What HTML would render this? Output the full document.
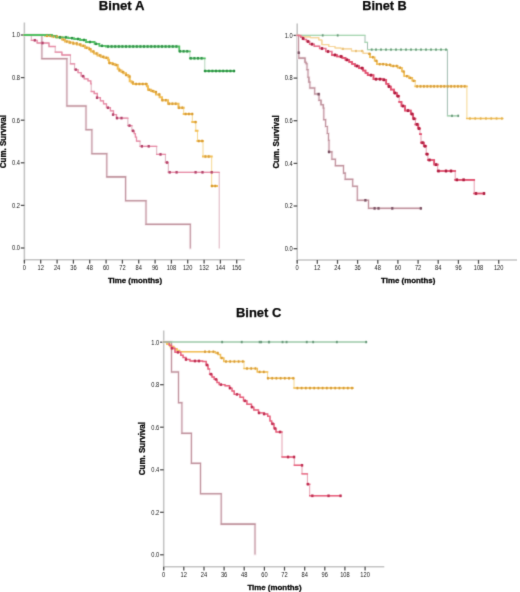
<!DOCTYPE html><html><head><meta charset="utf-8"><style>
html,body{margin:0;padding:0;background:#fff;}
body{width:520px;height:592px;overflow:hidden;}
svg{display:block;}
.tk{font-family:"Liberation Sans",sans-serif;font-size:6.50px;fill:#181818;}
.ttl{font-family:"Liberation Sans",sans-serif;font-size:13px;font-weight:bold;fill:#0a0a0a;stroke:#0a0a0a;stroke-width:0.25px;}
.lab{font-family:"Liberation Sans",sans-serif;font-size:8.2px;font-weight:bold;fill:#0a0a0a;stroke:#0a0a0a;stroke-width:0.3px;}
</style></head><body>
<svg width="520" height="592" viewBox="0 0 520 592">
<defs><filter id="bl" filterUnits="userSpaceOnUse" x="0" y="0" width="520" height="592" color-interpolation-filters="sRGB"><feConvolveMatrix order="3" kernelMatrix="0.0192 0.1001 0.0192 0.1001 0.5228 0.1001 0.0192 0.1001 0.0192" edgeMode="none" preserveAlpha="false"/></filter><filter id="bt" filterUnits="userSpaceOnUse" x="0" y="0" width="520" height="592" color-interpolation-filters="sRGB"><feConvolveMatrix order="3" kernelMatrix="0.0113 0.0838 0.0113 0.0838 0.6193 0.0838 0.0113 0.0838 0.0113" edgeMode="none" preserveAlpha="false"/></filter></defs>
<rect width="520" height="592" fill="#fff"/>
<g filter="url(#bt)">
<line x1="24.4" y1="22.5" x2="24.4" y2="262.3" stroke="#c6c6c6" stroke-width="1.6"/><line x1="24.4" y1="259.8" x2="244.8" y2="259.8" stroke="#c6c6c6" stroke-width="1.6"/><line x1="20.8" y1="248.0" x2="24.4" y2="248.0" stroke="#555" stroke-width="1.3"/><text x="20.0" y="250.3" class="tk" text-anchor="end" textLength="7.95" lengthAdjust="spacingAndGlyphs">0.0</text><line x1="20.8" y1="205.4" x2="24.4" y2="205.4" stroke="#555" stroke-width="1.3"/><text x="20.0" y="207.7" class="tk" text-anchor="end" textLength="7.95" lengthAdjust="spacingAndGlyphs">0.2</text><line x1="20.8" y1="162.8" x2="24.4" y2="162.8" stroke="#555" stroke-width="1.3"/><text x="20.0" y="165.1" class="tk" text-anchor="end" textLength="7.95" lengthAdjust="spacingAndGlyphs">0.4</text><line x1="20.8" y1="120.2" x2="24.4" y2="120.2" stroke="#555" stroke-width="1.3"/><text x="20.0" y="122.5" class="tk" text-anchor="end" textLength="7.95" lengthAdjust="spacingAndGlyphs">0.6</text><line x1="20.8" y1="77.6" x2="24.4" y2="77.6" stroke="#555" stroke-width="1.3"/><text x="20.0" y="79.9" class="tk" text-anchor="end" textLength="7.95" lengthAdjust="spacingAndGlyphs">0.8</text><line x1="20.8" y1="35.0" x2="24.4" y2="35.0" stroke="#555" stroke-width="1.3"/><text x="20.0" y="37.3" class="tk" text-anchor="end" textLength="7.95" lengthAdjust="spacingAndGlyphs">1.0</text><line x1="24.4" y1="259.8" x2="24.4" y2="263.6" stroke="#555" stroke-width="1.3"/><text x="24.4" y="270.0" class="tk" text-anchor="middle" textLength="3.18" lengthAdjust="spacingAndGlyphs">0</text><line x1="40.7" y1="259.8" x2="40.7" y2="263.6" stroke="#555" stroke-width="1.3"/><text x="40.7" y="270.0" class="tk" text-anchor="middle" textLength="6.36" lengthAdjust="spacingAndGlyphs">12</text><line x1="57.1" y1="259.8" x2="57.1" y2="263.6" stroke="#555" stroke-width="1.3"/><text x="57.1" y="270.0" class="tk" text-anchor="middle" textLength="6.36" lengthAdjust="spacingAndGlyphs">24</text><line x1="73.4" y1="259.8" x2="73.4" y2="263.6" stroke="#555" stroke-width="1.3"/><text x="73.4" y="270.0" class="tk" text-anchor="middle" textLength="6.36" lengthAdjust="spacingAndGlyphs">36</text><line x1="89.7" y1="259.8" x2="89.7" y2="263.6" stroke="#555" stroke-width="1.3"/><text x="89.7" y="270.0" class="tk" text-anchor="middle" textLength="6.36" lengthAdjust="spacingAndGlyphs">48</text><line x1="106.1" y1="259.8" x2="106.1" y2="263.6" stroke="#555" stroke-width="1.3"/><text x="106.1" y="270.0" class="tk" text-anchor="middle" textLength="6.36" lengthAdjust="spacingAndGlyphs">60</text><line x1="122.4" y1="259.8" x2="122.4" y2="263.6" stroke="#555" stroke-width="1.3"/><text x="122.4" y="270.0" class="tk" text-anchor="middle" textLength="6.36" lengthAdjust="spacingAndGlyphs">72</text><line x1="138.7" y1="259.8" x2="138.7" y2="263.6" stroke="#555" stroke-width="1.3"/><text x="138.7" y="270.0" class="tk" text-anchor="middle" textLength="6.36" lengthAdjust="spacingAndGlyphs">84</text><line x1="155.1" y1="259.8" x2="155.1" y2="263.6" stroke="#555" stroke-width="1.3"/><text x="155.1" y="270.0" class="tk" text-anchor="middle" textLength="6.36" lengthAdjust="spacingAndGlyphs">96</text><line x1="171.4" y1="259.8" x2="171.4" y2="263.6" stroke="#555" stroke-width="1.3"/><text x="171.4" y="270.0" class="tk" text-anchor="middle" textLength="9.54" lengthAdjust="spacingAndGlyphs">108</text><line x1="187.7" y1="259.8" x2="187.7" y2="263.6" stroke="#555" stroke-width="1.3"/><text x="187.7" y="270.0" class="tk" text-anchor="middle" textLength="9.54" lengthAdjust="spacingAndGlyphs">120</text><line x1="204.1" y1="259.8" x2="204.1" y2="263.6" stroke="#555" stroke-width="1.3"/><text x="204.1" y="270.0" class="tk" text-anchor="middle" textLength="9.54" lengthAdjust="spacingAndGlyphs">132</text><line x1="220.4" y1="259.8" x2="220.4" y2="263.6" stroke="#555" stroke-width="1.3"/><text x="220.4" y="270.0" class="tk" text-anchor="middle" textLength="9.54" lengthAdjust="spacingAndGlyphs">144</text><line x1="236.7" y1="259.8" x2="236.7" y2="263.6" stroke="#555" stroke-width="1.3"/><text x="236.7" y="270.0" class="tk" text-anchor="middle" textLength="9.54" lengthAdjust="spacingAndGlyphs">156</text><text x="98.8" y="10.3" class="ttl" textLength="45.6" lengthAdjust="spacingAndGlyphs">Binet A</text><text x="135.00" y="282.50" class="lab" style="font-size:8.1px" text-anchor="middle" textLength="54.2" lengthAdjust="spacingAndGlyphs">Time (months)</text><text transform="translate(6.30 141.60) rotate(-90)" class="lab" text-anchor="middle" textLength="53.2" lengthAdjust="spacingAndGlyphs">Cum. Survival</text>
<line x1="297.2" y1="23.5" x2="297.2" y2="262.5" stroke="#c6c6c6" stroke-width="1.6"/><line x1="297.2" y1="260.0" x2="517.0" y2="260.0" stroke="#c6c6c6" stroke-width="1.6"/><line x1="293.6" y1="248.7" x2="297.2" y2="248.7" stroke="#555" stroke-width="1.3"/><text x="292.8" y="251.0" class="tk" text-anchor="end" textLength="7.95" lengthAdjust="spacingAndGlyphs">0.0</text><line x1="293.6" y1="206.0" x2="297.2" y2="206.0" stroke="#555" stroke-width="1.3"/><text x="292.8" y="208.3" class="tk" text-anchor="end" textLength="7.95" lengthAdjust="spacingAndGlyphs">0.2</text><line x1="293.6" y1="163.4" x2="297.2" y2="163.4" stroke="#555" stroke-width="1.3"/><text x="292.8" y="165.7" class="tk" text-anchor="end" textLength="7.95" lengthAdjust="spacingAndGlyphs">0.4</text><line x1="293.6" y1="120.7" x2="297.2" y2="120.7" stroke="#555" stroke-width="1.3"/><text x="292.8" y="123.0" class="tk" text-anchor="end" textLength="7.95" lengthAdjust="spacingAndGlyphs">0.6</text><line x1="293.6" y1="78.1" x2="297.2" y2="78.1" stroke="#555" stroke-width="1.3"/><text x="292.8" y="80.4" class="tk" text-anchor="end" textLength="7.95" lengthAdjust="spacingAndGlyphs">0.8</text><line x1="293.6" y1="35.4" x2="297.2" y2="35.4" stroke="#555" stroke-width="1.3"/><text x="292.8" y="37.7" class="tk" text-anchor="end" textLength="7.95" lengthAdjust="spacingAndGlyphs">1.0</text><line x1="297.2" y1="260.0" x2="297.2" y2="263.8" stroke="#555" stroke-width="1.3"/><text x="297.2" y="270.0" class="tk" text-anchor="middle" textLength="3.18" lengthAdjust="spacingAndGlyphs">0</text><line x1="317.3" y1="260.0" x2="317.3" y2="263.8" stroke="#555" stroke-width="1.3"/><text x="317.3" y="270.0" class="tk" text-anchor="middle" textLength="6.36" lengthAdjust="spacingAndGlyphs">12</text><line x1="337.5" y1="260.0" x2="337.5" y2="263.8" stroke="#555" stroke-width="1.3"/><text x="337.5" y="270.0" class="tk" text-anchor="middle" textLength="6.36" lengthAdjust="spacingAndGlyphs">24</text><line x1="357.6" y1="260.0" x2="357.6" y2="263.8" stroke="#555" stroke-width="1.3"/><text x="357.6" y="270.0" class="tk" text-anchor="middle" textLength="6.36" lengthAdjust="spacingAndGlyphs">36</text><line x1="377.8" y1="260.0" x2="377.8" y2="263.8" stroke="#555" stroke-width="1.3"/><text x="377.8" y="270.0" class="tk" text-anchor="middle" textLength="6.36" lengthAdjust="spacingAndGlyphs">48</text><line x1="397.9" y1="260.0" x2="397.9" y2="263.8" stroke="#555" stroke-width="1.3"/><text x="397.9" y="270.0" class="tk" text-anchor="middle" textLength="6.36" lengthAdjust="spacingAndGlyphs">60</text><line x1="418.1" y1="260.0" x2="418.1" y2="263.8" stroke="#555" stroke-width="1.3"/><text x="418.1" y="270.0" class="tk" text-anchor="middle" textLength="6.36" lengthAdjust="spacingAndGlyphs">72</text><line x1="438.2" y1="260.0" x2="438.2" y2="263.8" stroke="#555" stroke-width="1.3"/><text x="438.2" y="270.0" class="tk" text-anchor="middle" textLength="6.36" lengthAdjust="spacingAndGlyphs">84</text><line x1="458.4" y1="260.0" x2="458.4" y2="263.8" stroke="#555" stroke-width="1.3"/><text x="458.4" y="270.0" class="tk" text-anchor="middle" textLength="6.36" lengthAdjust="spacingAndGlyphs">96</text><line x1="478.5" y1="260.0" x2="478.5" y2="263.8" stroke="#555" stroke-width="1.3"/><text x="478.5" y="270.0" class="tk" text-anchor="middle" textLength="9.54" lengthAdjust="spacingAndGlyphs">108</text><line x1="498.7" y1="260.0" x2="498.7" y2="263.8" stroke="#555" stroke-width="1.3"/><text x="498.7" y="270.0" class="tk" text-anchor="middle" textLength="9.54" lengthAdjust="spacingAndGlyphs">120</text><text x="362.2" y="10.2" class="ttl" textLength="44.6" lengthAdjust="spacingAndGlyphs">Binet B</text><text x="408.20" y="282.50" class="lab" style="font-size:8.1px" text-anchor="middle" textLength="54.2" lengthAdjust="spacingAndGlyphs">Time (months)</text><text transform="translate(278.50 142.00) rotate(-90)" class="lab" text-anchor="middle" textLength="53.2" lengthAdjust="spacingAndGlyphs">Cum. Survival</text>
<line x1="163.7" y1="330.5" x2="163.7" y2="569.3" stroke="#c6c6c6" stroke-width="1.6"/><line x1="163.7" y1="566.8" x2="384.3" y2="566.8" stroke="#c6c6c6" stroke-width="1.6"/><line x1="160.1" y1="554.8" x2="163.7" y2="554.8" stroke="#555" stroke-width="1.3"/><text x="159.3" y="557.1" class="tk" text-anchor="end" textLength="7.95" lengthAdjust="spacingAndGlyphs">0.0</text><line x1="160.1" y1="512.3" x2="163.7" y2="512.3" stroke="#555" stroke-width="1.3"/><text x="159.3" y="514.6" class="tk" text-anchor="end" textLength="7.95" lengthAdjust="spacingAndGlyphs">0.2</text><line x1="160.1" y1="469.8" x2="163.7" y2="469.8" stroke="#555" stroke-width="1.3"/><text x="159.3" y="472.1" class="tk" text-anchor="end" textLength="7.95" lengthAdjust="spacingAndGlyphs">0.4</text><line x1="160.1" y1="427.2" x2="163.7" y2="427.2" stroke="#555" stroke-width="1.3"/><text x="159.3" y="429.5" class="tk" text-anchor="end" textLength="7.95" lengthAdjust="spacingAndGlyphs">0.6</text><line x1="160.1" y1="384.7" x2="163.7" y2="384.7" stroke="#555" stroke-width="1.3"/><text x="159.3" y="387.0" class="tk" text-anchor="end" textLength="7.95" lengthAdjust="spacingAndGlyphs">0.8</text><line x1="160.1" y1="342.2" x2="163.7" y2="342.2" stroke="#555" stroke-width="1.3"/><text x="159.3" y="344.5" class="tk" text-anchor="end" textLength="7.95" lengthAdjust="spacingAndGlyphs">1.0</text><line x1="163.7" y1="566.8" x2="163.7" y2="570.6" stroke="#555" stroke-width="1.3"/><text x="163.7" y="576.9" class="tk" text-anchor="middle" textLength="3.18" lengthAdjust="spacingAndGlyphs">0</text><line x1="183.8" y1="566.8" x2="183.8" y2="570.6" stroke="#555" stroke-width="1.3"/><text x="183.8" y="576.9" class="tk" text-anchor="middle" textLength="6.36" lengthAdjust="spacingAndGlyphs">12</text><line x1="204.0" y1="566.8" x2="204.0" y2="570.6" stroke="#555" stroke-width="1.3"/><text x="204.0" y="576.9" class="tk" text-anchor="middle" textLength="6.36" lengthAdjust="spacingAndGlyphs">24</text><line x1="224.1" y1="566.8" x2="224.1" y2="570.6" stroke="#555" stroke-width="1.3"/><text x="224.1" y="576.9" class="tk" text-anchor="middle" textLength="6.36" lengthAdjust="spacingAndGlyphs">36</text><line x1="244.2" y1="566.8" x2="244.2" y2="570.6" stroke="#555" stroke-width="1.3"/><text x="244.2" y="576.9" class="tk" text-anchor="middle" textLength="6.36" lengthAdjust="spacingAndGlyphs">48</text><line x1="264.4" y1="566.8" x2="264.4" y2="570.6" stroke="#555" stroke-width="1.3"/><text x="264.4" y="576.9" class="tk" text-anchor="middle" textLength="6.36" lengthAdjust="spacingAndGlyphs">60</text><line x1="284.5" y1="566.8" x2="284.5" y2="570.6" stroke="#555" stroke-width="1.3"/><text x="284.5" y="576.9" class="tk" text-anchor="middle" textLength="6.36" lengthAdjust="spacingAndGlyphs">72</text><line x1="304.7" y1="566.8" x2="304.7" y2="570.6" stroke="#555" stroke-width="1.3"/><text x="304.7" y="576.9" class="tk" text-anchor="middle" textLength="6.36" lengthAdjust="spacingAndGlyphs">84</text><line x1="324.8" y1="566.8" x2="324.8" y2="570.6" stroke="#555" stroke-width="1.3"/><text x="324.8" y="576.9" class="tk" text-anchor="middle" textLength="6.36" lengthAdjust="spacingAndGlyphs">96</text><line x1="344.9" y1="566.8" x2="344.9" y2="570.6" stroke="#555" stroke-width="1.3"/><text x="344.9" y="576.9" class="tk" text-anchor="middle" textLength="9.54" lengthAdjust="spacingAndGlyphs">108</text><line x1="365.1" y1="566.8" x2="365.1" y2="570.6" stroke="#555" stroke-width="1.3"/><text x="365.1" y="576.9" class="tk" text-anchor="middle" textLength="9.54" lengthAdjust="spacingAndGlyphs">120</text><text x="236.0" y="316.7" class="ttl" textLength="45.3" lengthAdjust="spacingAndGlyphs">Binet C</text><text x="274.50" y="590.20" class="lab" style="font-size:8.1px" text-anchor="middle" textLength="54.2" lengthAdjust="spacingAndGlyphs">Time (months)</text><text transform="translate(145.00 448.60) rotate(-90)" class="lab" text-anchor="middle" textLength="53.2" lengthAdjust="spacingAndGlyphs">Cum. Survival</text>
</g>
<g fill="none" stroke-linejoin="miter" stroke-linecap="square" filter="url(#bl)">
<path d="M24.4 35.0H41.9V58.6H66.9V106.0H86.0V129.7H91.9V153.7H106.8V176.9H125.6V200.8H146.0V224.4H190.3V248.0" stroke="#f8ecf0" stroke-width="2.80"/>
<path d="M24.4 35.0H41.9V58.6H66.9V106.0H86.0V129.7H91.9V153.7H106.8V176.9H125.6V200.8H146.0V224.4H190.3V248.0" stroke="#bf939d" stroke-width="1.10"/>
<path d="M24.4 35.0H41.9M41.9 58.6H66.9M66.9 106.0H86.0M86.0 129.7H91.9M91.9 153.7H106.8M106.8 176.9H125.6M125.6 200.8H146.0M146.0 224.4H190.3" stroke="#bf939d" stroke-width="1.10"/>
<path d="M24.4 35.0H31.3V40.3H37.1V43.0H49.0V46.5H55.2V52.2H61.9V55.0H70.4V63.8H74.6V69.6H78.0V72.7H81.2V76.2H84.2V78.8H88.0V80.8H90.8V83.8H91.2V91.5H94.2V93.5H97.3V97.7H100.4V100.8H103.5V103.8H106.5V107.7H110.4V110.8H113.5V114.6H116.5V118.1H127.9V125.6H131.9V130.8H134.2V133.7H135.4V137.1H136.5V141.2H140.0V146.3H156.7V154.4H165.4V162.5H168.3V172.3H219.2V248.0" stroke="#ddb0bd" stroke-width="1.00"/>
<path d="M24.4 35.0H31.3M31.3 40.3H37.1M37.1 40.3V43.0M37.1 43.0H49.0M49.0 43.0V46.5M49.0 46.5H55.2M55.2 52.2H61.9M61.9 52.2V55.0M61.9 55.0H70.4M70.4 63.8H74.6M74.6 69.6H78.0M78.0 69.6V72.7M78.0 72.7H81.2M81.2 72.7V76.2M81.2 76.2H84.2M84.2 76.2V78.8M84.2 78.8H88.0M88.0 78.8V80.8M88.0 80.8H90.8M90.8 80.8V83.8M90.8 83.8H91.2M91.2 91.5H94.2M94.2 91.5V93.5M94.2 93.5H97.3M97.3 93.5V97.7M97.3 97.7H100.4M100.4 97.7V100.8M100.4 100.8H103.5M103.5 100.8V103.8M103.5 103.8H106.5M106.5 103.8V107.7M106.5 107.7H110.4M110.4 107.7V110.8M110.4 110.8H113.5M113.5 110.8V114.6M113.5 114.6H116.5M116.5 114.6V118.1M116.5 118.1H127.9M127.9 125.6H131.9M131.9 130.8H134.2M134.2 130.8V133.7M134.2 133.7H135.4M135.4 133.7V137.1M135.4 137.1H136.5M136.5 137.1V141.2M136.5 141.2H140.0M140.0 146.3H156.7M156.7 154.4H165.4M165.4 162.5H168.3M168.3 172.3H219.2" stroke="#e78aa5" stroke-width="1.30"/>
<path d="M24.4 35.0H45.0V35.8H52.0V36.5H57.0V37.2H62.0V39.5H65.0V41.5H69.0V42.5H73.0V43.4H77.0V44.5H81.0V45.8H85.0V47.7H89.0V49.2H91.0V51.5H94.0V53.5H97.5V55.4H101.0V56.8H104.2V57.8H108.1V59.7H109.0V63.1H112.3V64.0H114.8V65.0H117.7V68.8H119.2V70.4H121.5V72.0H123.5V73.2H126.0V75.0H128.3V76.5H129.7V81.3H131.5V82.5H133.0V84.0H146.9V86.3H148.0V89.8H151.0V91.0H153.8V92.1H156.0V94.5H159.6V97.3H162.0V100.2H168.0V103.7H178.5V107.7H183.7V114.0H192.3V122.1H195.8V130.8H197.5V141.0H203.0V156.5H211.7V186.0H217.0" stroke="#f6d890" stroke-width="1.00"/>
<path d="M24.4 35.0H45.0M45.0 35.0V35.8M45.0 35.8H52.0M52.0 35.8V36.5M52.0 36.5H57.0M57.0 36.5V37.2M57.0 37.2H62.0M62.0 37.2V39.5M62.0 39.5H65.0M65.0 39.5V41.5M65.0 41.5H69.0M69.0 41.5V42.5M69.0 42.5H73.0M73.0 42.5V43.4M73.0 43.4H77.0M77.0 43.4V44.5M77.0 44.5H81.0M81.0 44.5V45.8M81.0 45.8H85.0M85.0 45.8V47.7M85.0 47.7H89.0M89.0 47.7V49.2M89.0 49.2H91.0M91.0 49.2V51.5M91.0 51.5H94.0M94.0 51.5V53.5M94.0 53.5H97.5M97.5 53.5V55.4M97.5 55.4H101.0M101.0 55.4V56.8M101.0 56.8H104.2M104.2 56.8V57.8M104.2 57.8H108.1M108.1 57.8V59.7M108.1 59.7H109.0M109.0 59.7V63.1M109.0 63.1H112.3M112.3 63.1V64.0M112.3 64.0H114.8M114.8 64.0V65.0M114.8 65.0H117.7M117.7 65.0V68.8M117.7 68.8H119.2M119.2 68.8V70.4M119.2 70.4H121.5M121.5 70.4V72.0M121.5 72.0H123.5M123.5 72.0V73.2M123.5 73.2H126.0M126.0 73.2V75.0M126.0 75.0H128.3M128.3 75.0V76.5M128.3 76.5H129.7M129.7 76.5V81.3M129.7 81.3H131.5M131.5 81.3V82.5M131.5 82.5H133.0M133.0 82.5V84.0M133.0 84.0H146.9M146.9 84.0V86.3M146.9 86.3H148.0M148.0 86.3V89.8M148.0 89.8H151.0M151.0 89.8V91.0M151.0 91.0H153.8M153.8 91.0V92.1M153.8 92.1H156.0M156.0 92.1V94.5M156.0 94.5H159.6M159.6 94.5V97.3M159.6 97.3H162.0M162.0 97.3V100.2M162.0 100.2H168.0M168.0 100.2V103.7M168.0 103.7H178.5M178.5 103.7V107.7M178.5 107.7H183.7M183.7 114.0H192.3M192.3 122.1H195.8M195.8 130.8H197.5M197.5 141.0H203.0M203.0 156.5H211.7M211.7 186.0H217.0" stroke="#f2be55" stroke-width="2.00"/>
<path d="M24.4 35.0H52.0V35.8H56.0V37.4H68.0V38.2H74.0V39.0H80.0V40.0H86.0V42.0H94.6V43.8H99.4V45.8H106.0V46.5H179.3V51.3H189.9V58.3H204.8V71.0H234.2" stroke="#b5d6bc" stroke-width="1.00"/>
<path d="M24.4 35.0H52.0M52.0 35.0V35.8M52.0 35.8H56.0M56.0 35.8V37.4M56.0 37.4H68.0M68.0 37.4V38.2M68.0 38.2H74.0M74.0 38.2V39.0M74.0 39.0H80.0M80.0 39.0V40.0M80.0 40.0H86.0M86.0 40.0V42.0M86.0 42.0H94.6M94.6 42.0V43.8M94.6 43.8H99.4M99.4 43.8V45.8M99.4 45.8H106.0M106.0 45.8V46.5M106.0 46.5H179.3M179.3 46.5V51.3M179.3 51.3H189.9M189.9 58.3H204.8M204.8 71.0H234.2" stroke="#4fbf60" stroke-width="1.80"/>
<path d="M297.2 35.4H298.5V52.7H298.8V58.1H305.0V62.3H306.1V63.8H307.0V69.6H308.0V77.3H308.9V82.1H309.9V88.0H314.7V94.0H319.0V100.4H321.0V104.8H323.3V108.1H323.8V119.6H325.6V126.5H327.3V133.5H328.5V140.4H329.0V151.9H331.9V159.2H335.4V165.6H343.5V173.1H345.2V179.4H352.7V186.3H357.3V200.3H368.5V208.4H420.8" stroke="#f8ecf0" stroke-width="2.80"/>
<path d="M297.2 35.4H298.5V52.7H298.8V58.1H305.0V62.3H306.1V63.8H307.0V69.6H308.0V77.3H308.9V82.1H309.9V88.0H314.7V94.0H319.0V100.4H321.0V104.8H323.3V108.1H323.8V119.6H325.6V126.5H327.3V133.5H328.5V140.4H329.0V151.9H331.9V159.2H335.4V165.6H343.5V173.1H345.2V179.4H352.7V186.3H357.3V200.3H368.5V208.4H420.8" stroke="#bf939d" stroke-width="1.10"/>
<path d="M297.2 35.4H298.5M298.5 52.7H298.8M298.8 58.1H305.0M305.0 58.1V62.3M305.0 62.3H306.1M306.1 62.3V63.8M306.1 63.8H307.0M307.0 69.6H308.0M308.0 77.3H308.9M308.9 77.3V82.1M308.9 82.1H309.9M309.9 88.0H314.7M314.7 94.0H319.0M319.0 100.4H321.0M321.0 100.4V104.8M321.0 104.8H323.3M323.3 104.8V108.1M323.3 108.1H323.8M323.8 119.6H325.6M325.6 126.5H327.3M327.3 133.5H328.5M328.5 140.4H329.0M329.0 151.9H331.9M331.9 159.2H335.4M335.4 165.6H343.5M343.5 173.1H345.2M345.2 179.4H352.7M352.7 186.3H357.3M357.3 200.3H368.5M368.5 208.4H420.8" stroke="#bf939d" stroke-width="1.10"/>
<path d="M297.2 35.4H301.9V36.9H310.4V37.7H318.8V40.0H321.9V44.6H328.8V46.5H335.0V48.0H341.2V48.8H351.5V51.0H363.1V53.3H368.8V53.8H370.0V57.3H374.6V60.8H376.9V64.2H386.2V64.8H390.8V66.0H397.7V67.7H401.9V71.5H404.2V76.2H408.8V77.9H412.3V80.8H415.2V86.4H466.9V118.5H502.6" stroke="#f6d890" stroke-width="1.00"/>
<path d="M297.2 35.4H301.9M301.9 35.4V36.9M301.9 36.9H310.4M310.4 36.9V37.7M310.4 37.7H318.8M318.8 37.7V40.0M318.8 40.0H321.9M321.9 40.0V44.6M321.9 44.6H328.8M328.8 44.6V46.5M328.8 46.5H335.0M335.0 46.5V48.0M335.0 48.0H341.2M341.2 48.0V48.8M341.2 48.8H351.5M351.5 48.8V51.0M351.5 51.0H363.1M363.1 51.0V53.3M363.1 53.3H368.8M368.8 53.3V53.8M368.8 53.8H370.0M370.0 53.8V57.3M370.0 57.3H374.6M374.6 57.3V60.8M374.6 60.8H376.9M376.9 60.8V64.2M376.9 64.2H386.2M386.2 64.2V64.8M386.2 64.8H390.8M390.8 64.8V66.0M390.8 66.0H397.7M397.7 66.0V67.7M397.7 67.7H401.9M401.9 67.7V71.5M401.9 71.5H404.2M404.2 71.5V76.2M404.2 76.2H408.8M408.8 76.2V77.9M408.8 77.9H412.3M412.3 77.9V80.8M412.3 80.8H415.2M415.2 86.4H466.9M466.9 118.5H502.6" stroke="#f6d49a" stroke-width="1.20"/>
<path d="M368.8 53.8H370.0M370.0 53.8V57.3M370.0 57.3H374.6M374.6 57.3V60.8M374.6 60.8H376.9M376.9 60.8V64.2M376.9 64.2H386.2M386.2 64.2V64.8M386.2 64.8H390.8M390.8 64.8V66.0M390.8 66.0H397.7M397.7 66.0V67.7M397.7 67.7H401.9M401.9 67.7V71.5M401.9 71.5H404.2M404.2 71.5V76.2M404.2 76.2H408.8M408.8 76.2V77.9M408.8 77.9H412.3M412.3 77.9V80.8M412.3 80.8H415.2M415.2 86.4H466.9M466.9 118.5H502.6" stroke="#f2be55" stroke-width="1.6"/>
<path d="M297.2 35.4H365.0V42.4H367.5V49.6H447.4V115.8H458.2" stroke="#a0bcb0" stroke-width="1.00"/>
<path d="M297.2 35.4H365.0M365.0 42.4H367.5M367.5 49.6H447.4M447.4 115.8H458.2" stroke="#a6d6b0" stroke-width="1.20"/>
<path d="M297.2 35.4H299.6V35.8H300.8V37.2H302.7V38.5H304.2V39.5H306.5V41.5H309.6V44.2H314.2V46.2H319.6V48.5H325.8V51.5H331.9V55.0H337.0V56.5H342.3V57.9H345.5V59.8H349.2V61.9H352.0V64.0H355.0V66.0H359.0V68.2H363.1V70.6H365.5V73.0H367.7V75.2H373.5V79.2H382.7V79.8H386.2V83.8H388.5V86.5H390.8V89.6H394.0V93.0H396.9V96.2H399.2V101.9H401.5V106.0H405.0V110.6H410.8V114.0H413.1V118.7H415.4V124.4H418.3V128.5H420.0V134.2H421.0V142.7H423.8V146.2H426.2V154.2H427.9V160.0H434.2V164.6H437.7V171.0H455.2V179.8H474.2V193.5H484.0" stroke="#e6a0b0" stroke-width="1.00"/>
<path d="M297.2 35.4H299.6M299.6 35.4V35.8M299.6 35.8H300.8M300.8 35.8V37.2M300.8 37.2H302.7M302.7 37.2V38.5M302.7 38.5H304.2M304.2 38.5V39.5M304.2 39.5H306.5M306.5 39.5V41.5M306.5 41.5H309.6M309.6 41.5V44.2M309.6 44.2H314.2M314.2 44.2V46.2M314.2 46.2H319.6M319.6 46.2V48.5M319.6 48.5H325.8M325.8 48.5V51.5M325.8 51.5H331.9M331.9 51.5V55.0M331.9 55.0H337.0M337.0 55.0V56.5M337.0 56.5H342.3M342.3 56.5V57.9M342.3 57.9H345.5M345.5 57.9V59.8M345.5 59.8H349.2M349.2 59.8V61.9M349.2 61.9H352.0M352.0 61.9V64.0M352.0 64.0H355.0M355.0 64.0V66.0M355.0 66.0H359.0M359.0 66.0V68.2M359.0 68.2H363.1M363.1 68.2V70.6M363.1 70.6H365.5M365.5 70.6V73.0M365.5 73.0H367.7M367.7 73.0V75.2M367.7 75.2H373.5M373.5 75.2V79.2M373.5 79.2H382.7M382.7 79.2V79.8M382.7 79.8H386.2M386.2 79.8V83.8M386.2 83.8H388.5M388.5 83.8V86.5M388.5 86.5H390.8M390.8 86.5V89.6M390.8 89.6H394.0M394.0 89.6V93.0M394.0 93.0H396.9M396.9 93.0V96.2M396.9 96.2H399.2M399.2 101.9H401.5M401.5 101.9V106.0M401.5 106.0H405.0M405.0 106.0V110.6M405.0 110.6H410.8M410.8 110.6V114.0M410.8 114.0H413.1M413.1 114.0V118.7M413.1 118.7H415.4M415.4 124.4H418.3M418.3 124.4V128.5M418.3 128.5H420.0M420.0 134.2H421.0M421.0 142.7H423.8M423.8 142.7V146.2M423.8 146.2H426.2M426.2 154.2H427.9M427.9 160.0H434.2M434.2 160.0V164.6M434.2 164.6H437.7M437.7 171.0H455.2M455.2 179.8H474.2M474.2 193.5H484.0" stroke="#e8708c" stroke-width="1.50"/>
<path d="M331.9 55.0H337.0M337.0 55.0V56.5M337.0 56.5H342.3M342.3 56.5V57.9M342.3 57.9H345.5M345.5 57.9V59.8M345.5 59.8H349.2M349.2 59.8V61.9M349.2 61.9H352.0M352.0 61.9V64.0M352.0 64.0H355.0M355.0 64.0V66.0M355.0 66.0H359.0M359.0 66.0V68.2M359.0 68.2H363.1M363.1 68.2V70.6M363.1 70.6H365.5M365.5 70.6V73.0M365.5 73.0H367.7M367.7 73.0V75.2M367.7 75.2H373.5M373.5 75.2V79.2M373.5 79.2H382.7M382.7 79.2V79.8M382.7 79.8H386.2M386.2 79.8V83.8M386.2 83.8H388.5M388.5 83.8V86.5M388.5 86.5H390.8M390.8 86.5V89.6M390.8 89.6H394.0M394.0 89.6V93.0M394.0 93.0H396.9M396.9 93.0V96.2M396.9 96.2H399.2M399.2 101.9H401.5M401.5 101.9V106.0M401.5 106.0H405.0M405.0 106.0V110.6M405.0 110.6H410.8M410.8 110.6V114.0M410.8 114.0H413.1M413.1 114.0V118.7M413.1 118.7H415.4M415.4 124.4H418.3M418.3 124.4V128.5M418.3 128.5H420.0M420.0 134.2H421.0M421.0 142.7H423.8M423.8 142.7V146.2M423.8 146.2H426.2M426.2 154.2H427.9M427.9 160.0H434.2M434.2 160.0V164.6M434.2 164.6H437.7M437.7 171.0H455.2M455.2 179.8H474.2M474.2 193.5H484.0" stroke="#e2506f" stroke-width="1.7"/>
<path d="M163.7 342.0H171.5V372.0H178.5V402.7H181.9V433.4H191.4V463.4H200.5V493.8H221.2V524.1H255.0V554.0" stroke="#f8ecf0" stroke-width="2.80"/>
<path d="M163.7 342.0H171.5V372.0H178.5V402.7H181.9V433.4H191.4V463.4H200.5V493.8H221.2V524.1H255.0V554.0" stroke="#bf939d" stroke-width="1.10"/>
<path d="M163.7 342.0H171.5M171.5 372.0H178.5M178.5 402.7H181.9M181.9 433.4H191.4M191.4 463.4H200.5M200.5 493.8H221.2M221.2 524.1H255.0" stroke="#bf939d" stroke-width="1.10"/>
<path d="M163.7 342.0H166.9V344.2H170.0V346.5H173.8V348.8H177.0V350.5H179.6V351.7H215.4V353.0H218.1V354.6H220.5V358.0H223.8V361.5H244.0V368.5H257.3V371.9H267.6V378.3H294.0V388.1H353.1" stroke="#f6d890" stroke-width="1.00"/>
<path d="M163.7 342.0H166.9M166.9 342.0V344.2M166.9 344.2H170.0M170.0 344.2V346.5M170.0 346.5H173.8M173.8 346.5V348.8M173.8 348.8H177.0M177.0 348.8V350.5M177.0 350.5H179.6M179.6 350.5V351.7M179.6 351.7H215.4M215.4 351.7V353.0M215.4 353.0H218.1M218.1 353.0V354.6M218.1 354.6H220.5M220.5 354.6V358.0M220.5 358.0H223.8M223.8 358.0V361.5M223.8 361.5H244.0M244.0 368.5H257.3M257.3 368.5V371.9M257.3 371.9H267.6M267.6 378.3H294.0M294.0 388.1H353.1" stroke="#f2be55" stroke-width="1.50"/>
<path d="M163.7 342.0H169.2V345.4H171.5V348.3H175.0V352.3H180.8V355.2H183.1V357.5H186.0V359.5H190.0V361.0H202.7V361.5H206.2V365.0H208.0V369.0H209.6V374.2H212.0V377.0H214.2V379.4H217.0V382.5H219.2V384.6H225.0V385.8H229.6V388.1H232.0V391.0H234.2V394.4H240.0V397.3H243.5V400.8H246.9V404.2H251.5V407.1H253.8V410.0H258.5V412.9H264.2V414.0H267.7V416.3H270.0V421.0H271.7V423.8H274.0V428.5H276.0V432.0H282.0V457.0H294.3V465.3H302.0V473.9H307.4V484.2H309.7V495.8H340.5" stroke="#e6a0b0" stroke-width="1.00"/>
<path d="M163.7 342.0H169.2M169.2 342.0V345.4M169.2 345.4H171.5M171.5 345.4V348.3M171.5 348.3H175.0M175.0 348.3V352.3M175.0 352.3H180.8M180.8 352.3V355.2M180.8 355.2H183.1M183.1 355.2V357.5M183.1 357.5H186.0M186.0 357.5V359.5M186.0 359.5H190.0M190.0 359.5V361.0M190.0 361.0H202.7M202.7 361.0V361.5M202.7 361.5H206.2M206.2 361.5V365.0M206.2 365.0H208.0M208.0 365.0V369.0M208.0 369.0H209.6M209.6 374.2H212.0M212.0 374.2V377.0M212.0 377.0H214.2M214.2 377.0V379.4M214.2 379.4H217.0M217.0 379.4V382.5M217.0 382.5H219.2M219.2 382.5V384.6M219.2 384.6H225.0M225.0 384.6V385.8M225.0 385.8H229.6M229.6 385.8V388.1M229.6 388.1H232.0M232.0 388.1V391.0M232.0 391.0H234.2M234.2 391.0V394.4M234.2 394.4H240.0M240.0 394.4V397.3M240.0 397.3H243.5M243.5 397.3V400.8M243.5 400.8H246.9M246.9 400.8V404.2M246.9 404.2H251.5M251.5 404.2V407.1M251.5 407.1H253.8M253.8 407.1V410.0M253.8 410.0H258.5M258.5 410.0V412.9M258.5 412.9H264.2M264.2 412.9V414.0M264.2 414.0H267.7M267.7 414.0V416.3M267.7 416.3H270.0M270.0 416.3V421.0M270.0 421.0H271.7M271.7 421.0V423.8M271.7 423.8H274.0M274.0 423.8V428.5M274.0 428.5H276.0M276.0 428.5V432.0M276.0 432.0H282.0M282.0 457.0H294.3M294.3 465.3H302.0M302.0 473.9H307.4M307.4 484.2H309.7M309.7 495.8H340.5" stroke="#e8607c" stroke-width="1.40"/>
<path d="M163.7 342.0H366.2" stroke="#9ccaa8" stroke-width="1.4"/>
</g>
<g filter="url(#bl)"><rect x="33.7" y="39.0" width="2.2" height="2.6" fill="#b2456c"/><rect x="41.4" y="41.7" width="2.2" height="2.6" fill="#b2456c"/><rect x="74.7" y="68.3" width="2.2" height="2.6" fill="#b2456c"/><rect x="81.9" y="74.9" width="2.2" height="2.6" fill="#b2456c"/><rect x="95.9" y="96.4" width="2.2" height="2.6" fill="#b2456c"/><rect x="106.9" y="106.4" width="2.2" height="2.6" fill="#b2456c"/><rect x="111.9" y="113.3" width="2.2" height="2.6" fill="#b2456c"/><rect x="115.9" y="116.8" width="2.2" height="2.6" fill="#b2456c"/><rect x="120.4" y="116.8" width="2.2" height="2.6" fill="#b2456c"/><rect x="128.4" y="124.3" width="2.2" height="2.6" fill="#b2456c"/><rect x="131.9" y="129.5" width="2.2" height="2.6" fill="#b2456c"/><rect x="140.8" y="145.0" width="2.2" height="2.6" fill="#b2456c"/><rect x="147.6" y="145.0" width="2.2" height="2.6" fill="#b2456c"/><rect x="159.4" y="153.1" width="2.2" height="2.6" fill="#b2456c"/><rect x="165.9" y="161.2" width="2.2" height="2.6" fill="#b2456c"/><rect x="168.6" y="171.0" width="2.2" height="2.6" fill="#b2456c"/><rect x="175.5" y="171.0" width="2.2" height="2.6" fill="#b2456c"/><rect x="194.5" y="171.0" width="2.2" height="2.6" fill="#b2456c"/><rect x="201.4" y="171.0" width="2.2" height="2.6" fill="#b2456c"/><rect x="210.6" y="171.0" width="2.2" height="2.6" fill="#b2456c"/><rect x="46.1" y="34.6" width="1.8" height="2.4" fill="#d69e42"/><rect x="49.4" y="34.6" width="1.8" height="2.4" fill="#d69e42"/><rect x="52.7" y="35.3" width="1.8" height="2.4" fill="#d69e42"/><rect x="56.0" y="35.3" width="1.8" height="2.4" fill="#d69e42"/><rect x="59.3" y="36.0" width="1.8" height="2.4" fill="#d69e42"/><rect x="62.6" y="38.3" width="1.8" height="2.4" fill="#d69e42"/><rect x="65.9" y="40.3" width="1.8" height="2.4" fill="#d69e42"/><rect x="69.2" y="41.3" width="1.8" height="2.4" fill="#d69e42"/><rect x="72.5" y="42.2" width="1.8" height="2.4" fill="#d69e42"/><rect x="75.8" y="42.2" width="1.8" height="2.4" fill="#d69e42"/><rect x="79.1" y="43.3" width="1.8" height="2.4" fill="#d69e42"/><rect x="82.4" y="44.6" width="1.8" height="2.4" fill="#d69e42"/><rect x="85.7" y="46.5" width="1.8" height="2.4" fill="#d69e42"/><rect x="89.0" y="48.0" width="1.8" height="2.4" fill="#d69e42"/><rect x="92.3" y="50.3" width="1.8" height="2.4" fill="#d69e42"/><rect x="95.6" y="52.3" width="1.8" height="2.4" fill="#d69e42"/><rect x="98.9" y="54.2" width="1.8" height="2.4" fill="#d69e42"/><rect x="102.2" y="55.6" width="1.8" height="2.4" fill="#d69e42"/><rect x="105.5" y="56.6" width="1.8" height="2.4" fill="#d69e42"/><rect x="108.8" y="61.9" width="1.8" height="2.4" fill="#d69e42"/><rect x="112.1" y="62.8" width="1.8" height="2.4" fill="#d69e42"/><rect x="115.4" y="63.8" width="1.8" height="2.4" fill="#d69e42"/><rect x="118.7" y="69.2" width="1.8" height="2.4" fill="#d69e42"/><rect x="122.0" y="70.8" width="1.8" height="2.4" fill="#d69e42"/><rect x="125.3" y="73.8" width="1.8" height="2.4" fill="#d69e42"/><rect x="128.6" y="75.3" width="1.8" height="2.4" fill="#d69e42"/><rect x="131.9" y="81.3" width="1.8" height="2.4" fill="#d69e42"/><rect x="135.2" y="82.8" width="1.8" height="2.4" fill="#d69e42"/><rect x="138.5" y="82.8" width="1.8" height="2.4" fill="#d69e42"/><rect x="141.8" y="82.8" width="1.8" height="2.4" fill="#d69e42"/><rect x="145.1" y="82.8" width="1.8" height="2.4" fill="#d69e42"/><rect x="148.4" y="88.6" width="1.8" height="2.4" fill="#d69e42"/><rect x="151.7" y="89.8" width="1.8" height="2.4" fill="#d69e42"/><rect x="155.0" y="90.9" width="1.8" height="2.4" fill="#d69e42"/><rect x="158.3" y="93.3" width="1.8" height="2.4" fill="#d69e42"/><rect x="161.6" y="99.0" width="1.8" height="2.4" fill="#d69e42"/><rect x="164.9" y="99.0" width="1.8" height="2.4" fill="#d69e42"/><rect x="168.2" y="102.5" width="1.8" height="2.4" fill="#d69e42"/><rect x="171.5" y="102.5" width="1.8" height="2.4" fill="#d69e42"/><rect x="174.8" y="102.5" width="1.8" height="2.4" fill="#d69e42"/><rect x="178.1" y="106.5" width="1.8" height="2.4" fill="#d69e42"/><rect x="181.4" y="106.5" width="1.8" height="2.4" fill="#d69e42"/><rect x="184.7" y="112.8" width="1.8" height="2.4" fill="#d69e42"/><rect x="188.0" y="112.8" width="1.8" height="2.4" fill="#d69e42"/><rect x="191.3" y="112.8" width="1.8" height="2.4" fill="#d69e42"/><rect x="194.6" y="120.9" width="1.8" height="2.4" fill="#d69e42"/><rect x="197.9" y="139.8" width="1.8" height="2.4" fill="#d69e42"/><rect x="201.2" y="139.8" width="1.8" height="2.4" fill="#d69e42"/><rect x="204.5" y="155.3" width="1.8" height="2.4" fill="#d69e42"/><rect x="207.8" y="155.3" width="1.8" height="2.4" fill="#d69e42"/><rect x="211.1" y="184.8" width="1.8" height="2.4" fill="#d69e42"/><rect x="214.4" y="184.8" width="1.8" height="2.4" fill="#d69e42"/><rect x="59.0" y="36.2" width="2.0" height="2.4" fill="#3a9152"/><rect x="65.0" y="36.2" width="2.0" height="2.4" fill="#3a9152"/><rect x="71.0" y="37.0" width="2.0" height="2.4" fill="#3a9152"/><rect x="77.0" y="37.8" width="2.0" height="2.4" fill="#3a9152"/><rect x="83.0" y="38.8" width="2.0" height="2.4" fill="#3a9152"/><rect x="89.0" y="40.8" width="2.0" height="2.4" fill="#3a9152"/><rect x="95.0" y="42.6" width="2.0" height="2.4" fill="#3a9152"/><rect x="101.0" y="44.6" width="2.0" height="2.4" fill="#3a9152"/><rect x="107.0" y="45.3" width="2.0" height="2.4" fill="#3a9152"/><rect x="110.6" y="45.3" width="2.0" height="2.4" fill="#3a9152"/><rect x="114.2" y="45.3" width="2.0" height="2.4" fill="#3a9152"/><rect x="117.8" y="45.3" width="2.0" height="2.4" fill="#3a9152"/><rect x="121.4" y="45.3" width="2.0" height="2.4" fill="#3a9152"/><rect x="125.0" y="45.3" width="2.0" height="2.4" fill="#3a9152"/><rect x="128.6" y="45.3" width="2.0" height="2.4" fill="#3a9152"/><rect x="132.2" y="45.3" width="2.0" height="2.4" fill="#3a9152"/><rect x="135.8" y="45.3" width="2.0" height="2.4" fill="#3a9152"/><rect x="139.4" y="45.3" width="2.0" height="2.4" fill="#3a9152"/><rect x="143.0" y="45.3" width="2.0" height="2.4" fill="#3a9152"/><rect x="146.6" y="45.3" width="2.0" height="2.4" fill="#3a9152"/><rect x="150.2" y="45.3" width="2.0" height="2.4" fill="#3a9152"/><rect x="153.8" y="45.3" width="2.0" height="2.4" fill="#3a9152"/><rect x="157.4" y="45.3" width="2.0" height="2.4" fill="#3a9152"/><rect x="161.0" y="45.3" width="2.0" height="2.4" fill="#3a9152"/><rect x="164.6" y="45.3" width="2.0" height="2.4" fill="#3a9152"/><rect x="168.2" y="45.3" width="2.0" height="2.4" fill="#3a9152"/><rect x="171.8" y="45.3" width="2.0" height="2.4" fill="#3a9152"/><rect x="175.4" y="45.3" width="2.0" height="2.4" fill="#3a9152"/><rect x="179.0" y="50.1" width="2.0" height="2.4" fill="#3a9152"/><rect x="182.6" y="50.1" width="2.0" height="2.4" fill="#3a9152"/><rect x="186.2" y="50.1" width="2.0" height="2.4" fill="#3a9152"/><rect x="189.8" y="57.1" width="2.0" height="2.4" fill="#3a9152"/><rect x="193.4" y="57.1" width="2.0" height="2.4" fill="#3a9152"/><rect x="197.0" y="57.1" width="2.0" height="2.4" fill="#3a9152"/><rect x="200.6" y="57.1" width="2.0" height="2.4" fill="#3a9152"/><rect x="204.2" y="69.8" width="2.0" height="2.4" fill="#3a9152"/><rect x="207.8" y="69.8" width="2.0" height="2.4" fill="#3a9152"/><rect x="211.4" y="69.8" width="2.0" height="2.4" fill="#3a9152"/><rect x="215.0" y="69.8" width="2.0" height="2.4" fill="#3a9152"/><rect x="218.6" y="69.8" width="2.0" height="2.4" fill="#3a9152"/><rect x="222.2" y="69.8" width="2.0" height="2.4" fill="#3a9152"/><rect x="225.8" y="69.8" width="2.0" height="2.4" fill="#3a9152"/><rect x="229.4" y="69.8" width="2.0" height="2.4" fill="#3a9152"/><rect x="233.0" y="69.8" width="2.0" height="2.4" fill="#3a9152"/><rect x="297.6" y="51.4" width="2.2" height="2.6" fill="#7a5565"/><rect x="317.5" y="92.9" width="2.2" height="2.6" fill="#7a5565"/><rect x="327.9" y="150.6" width="2.2" height="2.6" fill="#7a5565"/><rect x="364.3" y="199.0" width="2.2" height="2.6" fill="#7a5565"/><rect x="373.5" y="207.1" width="2.2" height="2.6" fill="#7a5565"/><rect x="377.4" y="207.1" width="2.2" height="2.6" fill="#7a5565"/><rect x="391.2" y="207.1" width="2.2" height="2.6" fill="#7a5565"/><rect x="419.7" y="207.1" width="2.2" height="2.6" fill="#7a5565"/><rect x="301.8" y="37.1" width="2.4" height="2.8" fill="#ad2445"/><rect x="306.8" y="40.1" width="2.4" height="2.8" fill="#ad2445"/><rect x="310.8" y="42.8" width="2.4" height="2.8" fill="#ad2445"/><rect x="320.8" y="47.1" width="2.4" height="2.8" fill="#ad2445"/><rect x="326.8" y="50.1" width="2.4" height="2.8" fill="#ad2445"/><rect x="333.8" y="53.6" width="2.4" height="2.8" fill="#ad2445"/><rect x="339.8" y="55.1" width="2.4" height="2.8" fill="#ad2445"/><rect x="345.8" y="58.4" width="2.4" height="2.8" fill="#ad2445"/><rect x="355.8" y="64.6" width="2.4" height="2.8" fill="#ad2445"/><rect x="360.8" y="66.8" width="2.4" height="2.8" fill="#ad2445"/><rect x="369.8" y="73.8" width="2.4" height="2.8" fill="#ad2445"/><rect x="374.8" y="77.8" width="2.4" height="2.8" fill="#ad2445"/><rect x="378.8" y="77.8" width="2.4" height="2.8" fill="#ad2445"/><rect x="382.8" y="78.4" width="2.4" height="2.8" fill="#ad2445"/><rect x="387.8" y="85.1" width="2.4" height="2.8" fill="#ad2445"/><rect x="393.8" y="91.6" width="2.4" height="2.8" fill="#ad2445"/><rect x="396.8" y="94.8" width="2.4" height="2.8" fill="#ad2445"/><rect x="401.8" y="104.6" width="2.4" height="2.8" fill="#ad2445"/><rect x="406.8" y="109.2" width="2.4" height="2.8" fill="#ad2445"/><rect x="410.8" y="112.6" width="2.4" height="2.8" fill="#ad2445"/><rect x="412.8" y="117.3" width="2.4" height="2.8" fill="#ad2445"/><rect x="415.8" y="123.0" width="2.4" height="2.8" fill="#ad2445"/><rect x="417.8" y="127.1" width="2.4" height="2.8" fill="#ad2445"/><rect x="421.3" y="141.3" width="2.4" height="2.8" fill="#ad2445"/><rect x="423.8" y="144.8" width="2.4" height="2.8" fill="#ad2445"/><rect x="425.8" y="152.8" width="2.4" height="2.8" fill="#ad2445"/><rect x="428.3" y="158.6" width="2.4" height="2.8" fill="#ad2445"/><rect x="434.8" y="163.2" width="2.4" height="2.8" fill="#ad2445"/><rect x="437.3" y="169.6" width="2.4" height="2.8" fill="#ad2445"/><rect x="444.8" y="169.6" width="2.4" height="2.8" fill="#ad2445"/><rect x="449.8" y="169.6" width="2.4" height="2.8" fill="#ad2445"/><rect x="455.7" y="178.4" width="2.4" height="2.8" fill="#ad2445"/><rect x="462.4" y="178.4" width="2.4" height="2.8" fill="#ad2445"/><rect x="474.8" y="192.1" width="2.4" height="2.8" fill="#ad2445"/><rect x="482.8" y="192.1" width="2.4" height="2.8" fill="#ad2445"/><rect x="342.1" y="47.7" width="1.7" height="2.2" fill="#e8bf78"/><rect x="355.1" y="49.9" width="1.7" height="2.2" fill="#e8bf78"/><rect x="361.1" y="49.9" width="1.7" height="2.2" fill="#e8bf78"/><rect x="368.6" y="52.6" width="1.8" height="2.4" fill="#d69e42"/><rect x="372.0" y="56.1" width="1.8" height="2.4" fill="#d69e42"/><rect x="375.4" y="59.6" width="1.8" height="2.4" fill="#d69e42"/><rect x="378.8" y="63.0" width="1.8" height="2.4" fill="#d69e42"/><rect x="382.2" y="63.0" width="1.8" height="2.4" fill="#d69e42"/><rect x="385.6" y="63.6" width="1.8" height="2.4" fill="#d69e42"/><rect x="389.0" y="63.6" width="1.8" height="2.4" fill="#d69e42"/><rect x="392.4" y="64.8" width="1.8" height="2.4" fill="#d69e42"/><rect x="395.8" y="64.8" width="1.8" height="2.4" fill="#d69e42"/><rect x="399.2" y="66.5" width="1.8" height="2.4" fill="#d69e42"/><rect x="402.6" y="70.3" width="1.8" height="2.4" fill="#d69e42"/><rect x="406.0" y="75.0" width="1.8" height="2.4" fill="#d69e42"/><rect x="409.4" y="76.7" width="1.8" height="2.4" fill="#d69e42"/><rect x="412.8" y="79.6" width="1.8" height="2.4" fill="#d69e42"/><rect x="416.2" y="85.2" width="1.8" height="2.4" fill="#d69e42"/><rect x="419.6" y="85.2" width="1.8" height="2.4" fill="#d69e42"/><rect x="423.0" y="85.2" width="1.8" height="2.4" fill="#d69e42"/><rect x="426.4" y="85.2" width="1.8" height="2.4" fill="#d69e42"/><rect x="429.8" y="85.2" width="1.8" height="2.4" fill="#d69e42"/><rect x="433.2" y="85.2" width="1.8" height="2.4" fill="#d69e42"/><rect x="436.6" y="85.2" width="1.8" height="2.4" fill="#d69e42"/><rect x="440.0" y="85.2" width="1.8" height="2.4" fill="#d69e42"/><rect x="443.4" y="85.2" width="1.8" height="2.4" fill="#d69e42"/><rect x="446.8" y="85.2" width="1.8" height="2.4" fill="#d69e42"/><rect x="450.2" y="85.2" width="1.8" height="2.4" fill="#d69e42"/><rect x="453.6" y="85.2" width="1.8" height="2.4" fill="#d69e42"/><rect x="457.0" y="85.2" width="1.8" height="2.4" fill="#d69e42"/><rect x="460.4" y="85.2" width="1.8" height="2.4" fill="#d69e42"/><rect x="463.8" y="85.2" width="1.8" height="2.4" fill="#d69e42"/><rect x="469.1" y="117.4" width="1.7" height="2.2" fill="#e2b458"/><rect x="474.4" y="117.4" width="1.7" height="2.2" fill="#e2b458"/><rect x="479.8" y="117.4" width="1.7" height="2.2" fill="#e2b458"/><rect x="485.1" y="117.4" width="1.7" height="2.2" fill="#e2b458"/><rect x="490.4" y="117.4" width="1.7" height="2.2" fill="#e2b458"/><rect x="495.7" y="117.4" width="1.7" height="2.2" fill="#e2b458"/><rect x="501.0" y="117.4" width="1.7" height="2.2" fill="#e2b458"/><rect x="321.8" y="34.3" width="1.8" height="2.2" fill="#6f9c80"/><rect x="336.8" y="34.3" width="1.8" height="2.2" fill="#6f9c80"/><rect x="370.8" y="48.5" width="1.8" height="2.2" fill="#6f9c80"/><rect x="375.1" y="48.5" width="1.8" height="2.2" fill="#6f9c80"/><rect x="380.1" y="48.5" width="1.8" height="2.2" fill="#6f9c80"/><rect x="385.1" y="48.5" width="1.8" height="2.2" fill="#6f9c80"/><rect x="390.1" y="48.5" width="1.8" height="2.2" fill="#6f9c80"/><rect x="395.1" y="48.5" width="1.8" height="2.2" fill="#6f9c80"/><rect x="400.1" y="48.5" width="1.8" height="2.2" fill="#6f9c80"/><rect x="405.1" y="48.5" width="1.8" height="2.2" fill="#6f9c80"/><rect x="410.1" y="48.5" width="1.8" height="2.2" fill="#6f9c80"/><rect x="415.1" y="48.5" width="1.8" height="2.2" fill="#6f9c80"/><rect x="420.1" y="48.5" width="1.8" height="2.2" fill="#6f9c80"/><rect x="425.1" y="48.5" width="1.8" height="2.2" fill="#6f9c80"/><rect x="430.1" y="48.5" width="1.8" height="2.2" fill="#6f9c80"/><rect x="435.1" y="48.5" width="1.8" height="2.2" fill="#6f9c80"/><rect x="440.1" y="48.5" width="1.8" height="2.2" fill="#6f9c80"/><rect x="445.1" y="48.5" width="1.8" height="2.2" fill="#6f9c80"/><rect x="451.1" y="114.7" width="1.8" height="2.2" fill="#6f9c80"/><rect x="457.3" y="114.7" width="1.8" height="2.2" fill="#6f9c80"/><rect x="170.8" y="347.0" width="2.3" height="2.6" fill="#c0385a"/><rect x="176.8" y="351.0" width="2.3" height="2.6" fill="#c0385a"/><rect x="184.8" y="358.2" width="2.3" height="2.6" fill="#c0385a"/><rect x="193.8" y="359.7" width="2.3" height="2.6" fill="#c0385a"/><rect x="197.8" y="359.7" width="2.3" height="2.6" fill="#c0385a"/><rect x="205.8" y="363.7" width="2.3" height="2.6" fill="#c0385a"/><rect x="209.8" y="372.9" width="2.3" height="2.6" fill="#c0385a"/><rect x="214.8" y="378.1" width="2.3" height="2.6" fill="#c0385a"/><rect x="219.8" y="383.3" width="2.3" height="2.6" fill="#c0385a"/><rect x="228.8" y="386.8" width="2.3" height="2.6" fill="#c0385a"/><rect x="235.8" y="393.1" width="2.3" height="2.6" fill="#c0385a"/><rect x="243.8" y="399.5" width="2.3" height="2.6" fill="#c0385a"/><rect x="250.8" y="405.8" width="2.3" height="2.6" fill="#c0385a"/><rect x="257.9" y="411.6" width="2.3" height="2.6" fill="#c0385a"/><rect x="262.9" y="412.7" width="2.3" height="2.6" fill="#c0385a"/><rect x="271.4" y="422.5" width="2.3" height="2.6" fill="#c0385a"/><rect x="273.9" y="427.2" width="2.3" height="2.6" fill="#c0385a"/><rect x="278.9" y="430.7" width="2.3" height="2.6" fill="#c0385a"/><rect x="286.9" y="455.7" width="2.3" height="2.6" fill="#c0385a"/><rect x="292.9" y="455.7" width="2.3" height="2.6" fill="#c0385a"/><rect x="300.9" y="464.0" width="2.3" height="2.6" fill="#c0385a"/><rect x="306.7" y="482.9" width="2.3" height="2.6" fill="#c0385a"/><rect x="311.2" y="494.5" width="2.3" height="2.6" fill="#c0385a"/><rect x="327.4" y="494.5" width="2.3" height="2.6" fill="#c0385a"/><rect x="339.4" y="494.5" width="2.3" height="2.6" fill="#c0385a"/><rect x="204.1" y="350.5" width="1.8" height="2.4" fill="#d69e42"/><rect x="208.3" y="350.5" width="1.8" height="2.4" fill="#d69e42"/><rect x="212.5" y="350.5" width="1.8" height="2.4" fill="#d69e42"/><rect x="216.7" y="351.8" width="1.8" height="2.4" fill="#d69e42"/><rect x="220.9" y="356.8" width="1.8" height="2.4" fill="#d69e42"/><rect x="225.1" y="360.3" width="1.8" height="2.4" fill="#d69e42"/><rect x="229.3" y="360.3" width="1.8" height="2.4" fill="#d69e42"/><rect x="233.5" y="360.3" width="1.8" height="2.4" fill="#d69e42"/><rect x="237.7" y="360.3" width="1.8" height="2.4" fill="#d69e42"/><rect x="241.9" y="360.3" width="1.8" height="2.4" fill="#d69e42"/><rect x="246.1" y="367.3" width="1.8" height="2.4" fill="#d69e42"/><rect x="250.3" y="367.3" width="1.8" height="2.4" fill="#d69e42"/><rect x="254.5" y="367.3" width="1.8" height="2.4" fill="#d69e42"/><rect x="258.7" y="370.7" width="1.8" height="2.4" fill="#d69e42"/><rect x="262.9" y="370.7" width="1.8" height="2.4" fill="#d69e42"/><rect x="267.1" y="377.1" width="1.8" height="2.4" fill="#d69e42"/><rect x="271.3" y="377.1" width="1.8" height="2.4" fill="#d69e42"/><rect x="275.5" y="377.1" width="1.8" height="2.4" fill="#d69e42"/><rect x="279.7" y="377.1" width="1.8" height="2.4" fill="#d69e42"/><rect x="283.9" y="377.1" width="1.8" height="2.4" fill="#d69e42"/><rect x="288.1" y="377.1" width="1.8" height="2.4" fill="#d69e42"/><rect x="292.3" y="377.1" width="1.8" height="2.4" fill="#d69e42"/><rect x="296.5" y="386.9" width="1.8" height="2.4" fill="#d69e42"/><rect x="300.7" y="386.9" width="1.8" height="2.4" fill="#d69e42"/><rect x="304.9" y="386.9" width="1.8" height="2.4" fill="#d69e42"/><rect x="309.1" y="386.9" width="1.8" height="2.4" fill="#d69e42"/><rect x="313.3" y="386.9" width="1.8" height="2.4" fill="#d69e42"/><rect x="317.5" y="386.9" width="1.8" height="2.4" fill="#d69e42"/><rect x="321.7" y="386.9" width="1.8" height="2.4" fill="#d69e42"/><rect x="325.9" y="386.9" width="1.8" height="2.4" fill="#d69e42"/><rect x="330.1" y="386.9" width="1.8" height="2.4" fill="#d69e42"/><rect x="334.3" y="386.9" width="1.8" height="2.4" fill="#d69e42"/><rect x="338.5" y="386.9" width="1.8" height="2.4" fill="#d69e42"/><rect x="342.7" y="386.9" width="1.8" height="2.4" fill="#d69e42"/><rect x="346.9" y="386.9" width="1.8" height="2.4" fill="#d69e42"/><rect x="351.1" y="386.9" width="1.8" height="2.4" fill="#d69e42"/><rect x="221.2" y="340.9" width="1.9" height="2.3" fill="#6f9c80"/><rect x="240.8" y="340.9" width="1.9" height="2.3" fill="#6f9c80"/><rect x="258.7" y="340.9" width="1.9" height="2.3" fill="#6f9c80"/><rect x="260.2" y="340.9" width="1.9" height="2.3" fill="#6f9c80"/><rect x="267.9" y="340.9" width="1.9" height="2.3" fill="#6f9c80"/><rect x="268.2" y="340.9" width="1.9" height="2.3" fill="#6f9c80"/><rect x="281.6" y="340.9" width="1.9" height="2.3" fill="#6f9c80"/><rect x="285.6" y="340.9" width="1.9" height="2.3" fill="#6f9c80"/><rect x="305.8" y="340.9" width="1.9" height="2.3" fill="#6f9c80"/><rect x="312.2" y="340.9" width="1.9" height="2.3" fill="#6f9c80"/><rect x="335.9" y="340.9" width="1.9" height="2.3" fill="#6f9c80"/><rect x="365.2" y="340.9" width="1.9" height="2.3" fill="#6f9c80"/></g>
</svg></body></html>
